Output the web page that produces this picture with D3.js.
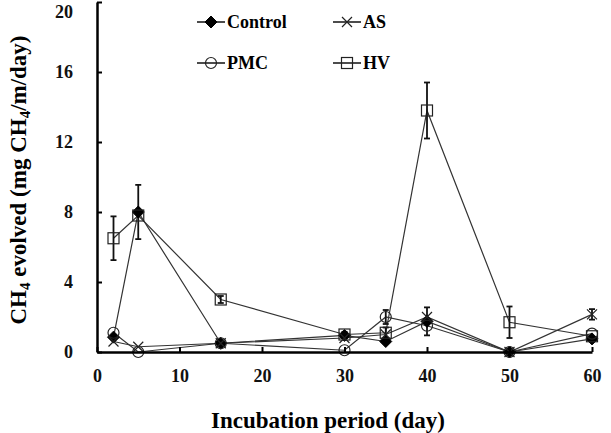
<!doctype html>
<html lang="en">
<head>
<meta charset="UTF-8">
<script src="https://cdnjs.cloudflare.com/ajax/libs/d3/7.8.5/d3.min.js"></script>
<title>CH4 evolved</title>
<style>
  body { margin: 0; background: #fff; }
</style>
</head>
<body>
<div id="viz_area"></div>
<script>
    const days = [2, 5, 15, 30, 35, 40, 50, 60];
    const control = [0.85, 8.0, 0.5, 0.95, 0.6, 1.75, 0, 0.75];
    const as = [0.6, 0.3, 0.5, 0.8, 1.0, 2.0, 0, 2.15];
    const pmc = [1.1, 0, 0.5, 0.1, 2.0, 1.5, 0, 1.05];
    const hv = [6.5, 7.8, 3.0, 1.0, 1.1, 13.8, 1.7, 0.9];
    // +/- error bars (0 = none drawn)
    const controlErr = [0, 1.55, 0, 0, 0, 0.8, 0, 0];
    const asErr = [0, 0, 0, 0, 0, 0, 0, 0.3];
    const pmcErr = [0, 0, 0, 0, 0.4, 0, 0, 0];
    const hvErr = [1.25, 0, 0.2, 0.15, 0.3, 1.6, 0.9, 0];
    const xTicks = [0, 10, 20, 30, 40, 50, 60];
    const yTicks = [0, 4, 8, 12, 16, 20];

    const series = [
        {name: "Control", values: control, err: controlErr, marker: "diamond"},
        {name: "AS", values: as, err: asErr, marker: "cross"},
        {name: "PMC", values: pmc, err: pmcErr, marker: "circle"},
        {name: "HV", values: hv, err: hvErr, marker: "square"}
    ];

    const FONT = "'Liberation Serif', Tinos, 'Times New Roman', 'DejaVu Serif', serif";

    const W = 611, H = 433;
    const margin = {top: 2, right: 19, bottom: 81, left: 97};
    const width = W - margin.left - margin.right,
        height = H - margin.top - margin.bottom;

    const svg = d3.select('#viz_area')
        .append("svg")
        .attr("width", W)
        .attr("height", H);

    const g = svg.append("g")
        .attr("transform", `translate(${margin.left},${margin.top})`);

    const x = d3.scaleLinear().domain([0, 60]).range([0, width]);
    const y = d3.scaleLinear().domain([0, 20]).range([height, 0]);

    function drawMarker(sel, type, cx, cy) {
        if (type === "diamond") {
            sel.append("path")
                .attr("d", `M${cx},${cy - 6}L${cx + 6},${cy}L${cx},${cy + 6}L${cx - 6},${cy}Z`)
                .attr("fill", "#000").attr("stroke", "#000");
        } else if (type === "cross") {
            sel.append("path")
                .attr("d", `M${cx - 5},${cy - 5}L${cx + 5},${cy + 5}M${cx - 5},${cy + 5}L${cx + 5},${cy - 5}`)
                .attr("fill", "none").attr("stroke", "#222").attr("stroke-width", 1.2);
        } else if (type === "circle") {
            sel.append("circle")
                .attr("cx", cx).attr("cy", cy).attr("r", 5.5)
                .attr("fill", "none").attr("stroke", "#222").attr("stroke-width", 1.2);
        } else if (type === "square") {
            sel.append("rect")
                .attr("x", cx - 5.5).attr("y", cy - 5.5)
                .attr("width", 11).attr("height", 11)
                .attr("fill", "none").attr("stroke", "#222").attr("stroke-width", 1.2);
        }
    }

    const line = d3.line()
        .x((d, i) => x(days[i]))
        .y(d => y(d));

    // lines
    series.forEach(s => {
        g.append("path")
            .datum(s.values)
            .attr("d", line)
            .attr("fill", "none")
            .attr("stroke", "#333")
            .attr("stroke-width", 1.2);
    });

    // error bars
    series.forEach(s => {
        s.err.forEach((e, i) => {
            if (!e) return;
            const cx = x(days[i]);
            const y1 = y(s.values[i] + e), y0 = y(Math.max(0, s.values[i] - e));
            g.append("line").attr("x1", cx).attr("x2", cx).attr("y1", y1).attr("y2", y0)
                .attr("stroke", "#111").attr("stroke-width", 1.8);
            [y1, y0].forEach(yy => g.append("line")
                .attr("x1", cx - 3).attr("x2", cx + 3).attr("y1", yy).attr("y2", yy)
                .attr("stroke", "#111").attr("stroke-width", 1.8));
        });
    });

    // markers
    series.forEach(s => {
        const mg = g.append("g");
        s.values.forEach((v, i) => drawMarker(mg, s.marker, x(days[i]), y(v)));
    });

    // axes
    const xAxis = d3.axisBottom(x).tickValues(xTicks).tickSizeInner(-5).tickSizeOuter(0).tickPadding(17);
    const yAxis = d3.axisLeft(y).tickValues(yTicks).tickSizeInner(-5).tickSizeOuter(0).tickPadding(24);

    const gx = g.append("g").attr("transform", `translate(0,${height})`).call(xAxis);
    const gy = g.append("g").call(yAxis);
    [gx, gy].forEach(a => {
        a.attr("font-family", FONT);
        a.select(".domain").attr("stroke", "#000").attr("stroke-width", 2.5);
        a.selectAll(".tick line").attr("stroke", "#000").attr("stroke-width", 2);
        a.selectAll(".tick text").attr("font-size", 18).attr("fill", "#111")
            .style("font-family", FONT).style("font-weight", "bold");
    });
    // top label kept just inside the picture
    gy.selectAll(".tick text").filter(d => d === 20).attr("dy", "0.85em");

    // axis titles
    svg.append("text")
        .attr("x", 328).attr("y", 428)
        .attr("text-anchor", "middle")
        .style("font-family", FONT).style("font-weight", "bold")
        .attr("font-size", 23)
        .text("Incubation period (day)");

    const yt = svg.append("text")
        .attr("transform", "translate(26,180) rotate(-90)")
        .attr("text-anchor", "middle")
        .style("font-family", FONT).style("font-weight", "bold")
        .attr("font-size", 23);
    yt.append("tspan").text("CH");
    yt.append("tspan").attr("font-size", 15).attr("dy", 4).text("4");
    yt.append("tspan").attr("dy", -4).text(" evolved (mg CH");
    yt.append("tspan").attr("font-size", 15).attr("dy", 4).text("4");
    yt.append("tspan").attr("dy", -4).text("/m/day)");

    // legend
    const legendPos = [[197, 22], [333, 22], [197, 63], [333, 63]];
    series.forEach((s, i) => {
        const [lx, ly] = legendPos[i];
        const lg = svg.append("g");
        lg.append("line").attr("x1", lx).attr("x2", lx + 28).attr("y1", ly).attr("y2", ly)
            .attr("stroke", "#111").attr("stroke-width", 1.5);
        drawMarker(lg, s.marker, lx + 14, ly);
        lg.append("text").attr("x", lx + 30).attr("y", ly + 6)
            .style("font-family", FONT).style("font-weight", "bold")
            .attr("font-size", 18).text(s.name);
    });
</script>
</body>
</html>
